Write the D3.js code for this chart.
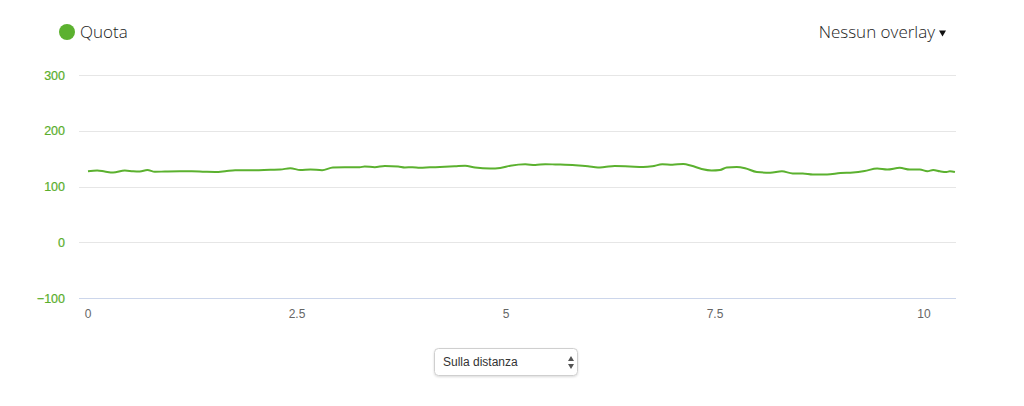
<!DOCTYPE html>
<html>
<head>
<meta charset="utf-8">
<script src="https://cdn.jsdelivr.net/npm/d3@7"></script>
<style>
  html, body { margin: 0; padding: 0; background: #fff; }
  svg { display: block; }
</style>
</head>
<body>
<svg id="chart" width="1024" height="406"></svg>
<script>
// ---- data ----
const distances = [0.00,0.11,0.20,0.30,0.44,0.54,0.62,0.71,0.80,0.92,1.10,1.24,1.40,1.52,1.64,1.76,1.88,2.00,2.18,2.30,2.42,2.54,2.66,2.80,2.93,3.07,3.25,3.31,3.43,3.55,3.71,3.79,3.88,3.97,4.09,4.21,4.39,4.51,4.63,4.81,4.93,5.05,5.23,5.35,5.47,5.59,5.83,5.98,6.10,6.18,6.30,6.48,6.64,6.75,6.87,6.99,7.12,7.22,7.34,7.46,7.56,7.64,7.76,7.86,8.00,8.16,8.30,8.43,8.55,8.67,8.84,9.00,9.15,9.29,9.44,9.56,9.71,9.83,9.95,10.04,10.11,10.19,10.27,10.31,10.37];
const elevation = [127.4,128.7,126.9,125.1,128.7,127.3,126.9,129.6,126.4,126.9,127.4,127.3,126.4,126.0,127.3,129.2,129.1,129.2,130.1,130.5,132.8,129.6,130.5,129.2,134.1,134.4,134.4,135.9,134.6,136.8,135.9,134.1,134.6,133.5,134.4,135.0,136.2,137.1,134.1,132.3,133.2,137.1,139.8,138.6,140.0,139.5,138.2,136.4,134.1,135.0,136.8,135.9,135.0,136.2,139.8,139.1,140.4,137.1,131.4,128.7,129.6,134.1,135.0,132.8,126.0,124.6,127.3,123.3,123.3,121.5,121.5,124.2,125.1,127.8,132.3,130.5,133.5,130.5,130.5,127.4,129.6,127.3,126.0,127.4,126.0];
const yTicks = [-100, 0, 100, 200, 300];
const xTicks = [0, 2.5, 5, 7.5, 10];
const xTickLabels = ["0", "2.5", "5", "7.5", "10"];
const seriesName = "Quota";
const overlayLabel = "Nessun overlay";
const selectLabel = "Sulla distanza";

// ---- layout ----
const svg = d3.select("#chart");
const green = "#5bb12f";
const plotLeft = 79, plotRight = 956;
const x = d3.scaleLinear().domain([0, 10]).range([88, 924]);
const y = d3.scaleLinear().domain([-100, 300]).range([298, 75]);

// grid lines
svg.append("g").selectAll("line").data(yTicks.filter(d => d !== -100)).join("line")
  .attr("x1", plotLeft).attr("x2", plotRight)
  .attr("y1", d => Math.round(y(d)) + 0.5).attr("y2", d => Math.round(y(d)) + 0.5)
  .attr("stroke", "#e6e6e6").attr("stroke-width", 1);
// x axis line
svg.append("line")
  .attr("x1", plotLeft).attr("x2", plotRight)
  .attr("y1", Math.round(y(-100)) + 0.5).attr("y2", Math.round(y(-100)) + 0.5)
  .attr("stroke", "#ccd6eb").attr("stroke-width", 1);

// y labels
svg.append("g").selectAll("text").data(yTicks).join("text")
  .attr("x", 65).attr("y", d => y(d) + 4.5)
  .attr("text-anchor", "end")
  .attr("font-family", "Liberation Sans, Arial, sans-serif")
  .attr("font-size", 12.5).attr("fill", "#5aae2c")
  .attr("stroke", "#5aae2c").attr("stroke-width", 0.2)
  .text(d => d < 0 ? "\u2212" + Math.abs(d) : d);

// x labels
svg.append("g").selectAll("text").data(xTicks).join("text")
  .attr("x", d => x(d)).attr("y", 318)
  .attr("text-anchor", "middle")
  .attr("font-family", "Liberation Sans, Arial, sans-serif")
  .attr("font-size", 12).attr("fill", "#666666")
  .text((d, i) => xTickLabels[i]);

// line
const line = d3.line()
  .x((d, i) => x(distances[i]))
  .y(d => y(d))
  .curve(d3.curveMonotoneX);
svg.append("path").datum(elevation)
  .attr("d", line)
  .attr("fill", "none").attr("stroke", green)
  .attr("stroke-width", 2).attr("stroke-linejoin", "round");

// legend
svg.append("circle").attr("cx", 67).attr("cy", 32).attr("r", 8).attr("fill", green);
svg.append("text").attr("x", 80).attr("y", 38)
  .attr("font-family", "Open Sans, sans-serif").attr("font-weight", 300)
  .attr("font-size", 17).attr("fill", "#222").text(seriesName);

// overlay menu
svg.append("text").attr("x", 935).attr("y", 38).attr("text-anchor", "end")
  .attr("font-family", "Open Sans, sans-serif").attr("font-weight", 300)
  .attr("font-size", 17).attr("fill", "#222").text(overlayLabel);
svg.append("path").attr("d", "M939,30.5 L946,30.5 L942.5,36.5 Z").attr("fill", "#111");

// select box
const defs = svg.append("defs");
const f = defs.append("filter").attr("id", "sh").attr("x", "-10%").attr("y", "-30%").attr("width", "120%").attr("height", "160%");
f.append("feDropShadow").attr("dx", 0).attr("dy", 1).attr("stdDeviation", 1).attr("flood-color", "#000").attr("flood-opacity", 0.15);
svg.append("rect").attr("x", 434.5).attr("y", 348.5).attr("width", 143).attr("height", 27).attr("rx", 4)
  .attr("fill", "#fff").attr("stroke", "#cfcfcf").attr("filter", "url(#sh)");
svg.append("text").attr("x", 443).attr("y", 366)
  .attr("font-family", "Liberation Sans, Arial, sans-serif")
  .attr("font-size", 12).attr("fill", "#333").text(selectLabel);
svg.append("path").attr("d", "M568,361 L574,361 L571,356 Z M568,364 L574,364 L571,369 Z").attr("fill", "#555");
</script>
</body>
</html>
